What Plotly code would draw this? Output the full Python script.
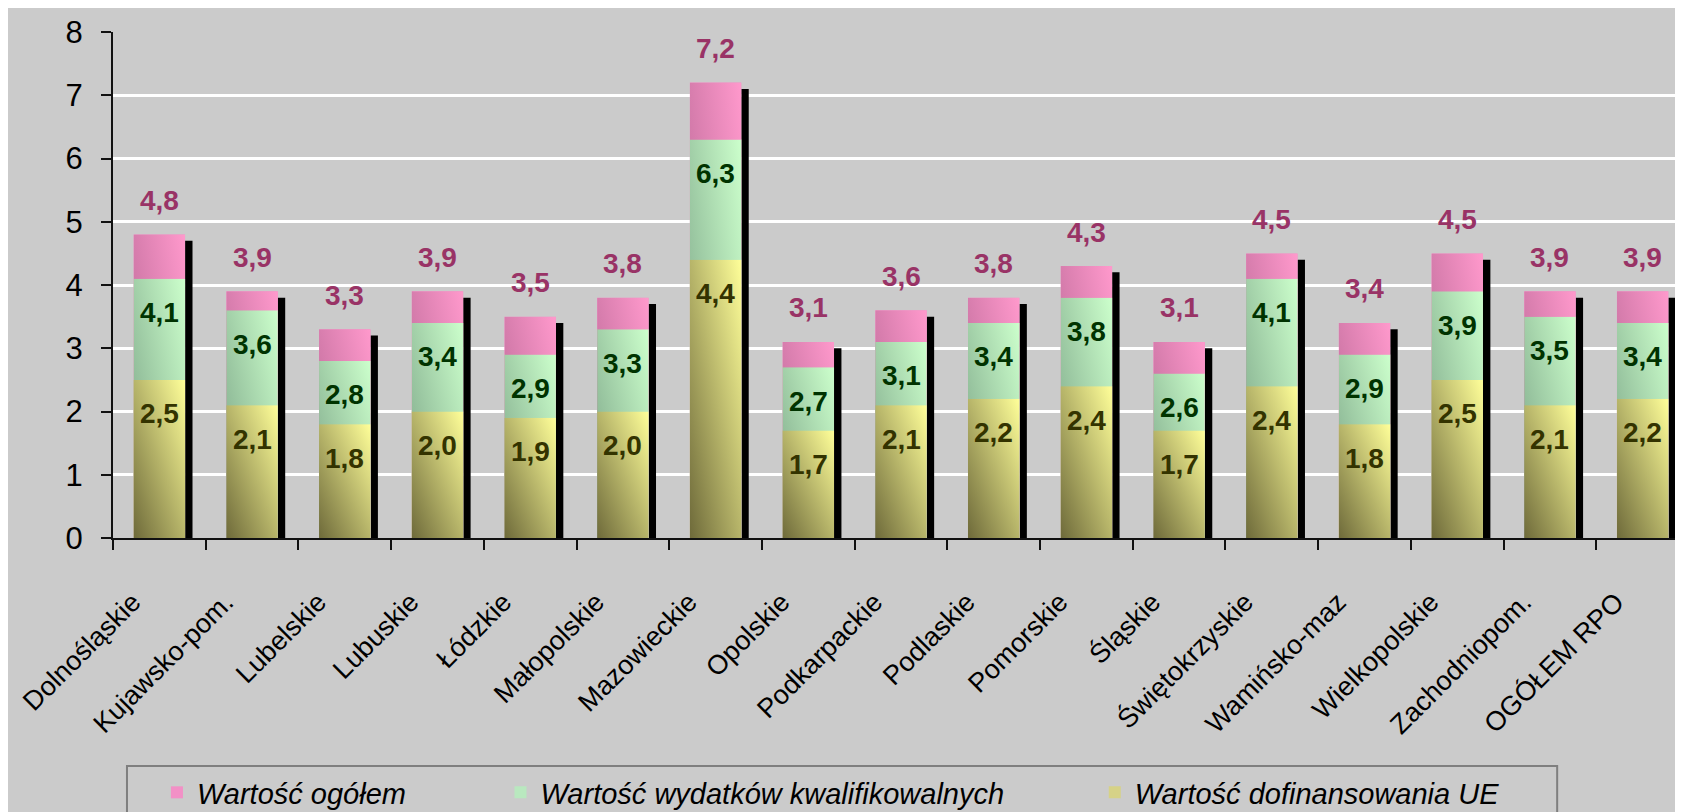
import base64
import plotly.graph_objects as go

# Regions and values (one decimal, as labelled)
regions = [
    "Dolnośląskie", "Kujawsko-pom.", "Lubelskie", "Lubuskie", "Łódzkie",
    "Małopolskie", "Mazowieckie", "Opolskie", "Podkarpackie", "Podlaskie",
    "Pomorskie", "Śląskie", "Świętokrzyskie", "Wamińsko-maz", "Wielkopolskie",
    "Zachodniopom.", "OGÓŁEM RPO",
]
total_value = [4.8, 3.9, 3.3, 3.9, 3.5, 3.8, 7.2, 3.1, 3.6, 3.8, 4.3, 3.1, 4.5, 3.4, 4.5, 3.9, 3.9]
eligible_value = [4.1, 3.6, 2.8, 3.4, 2.9, 3.3, 6.3, 2.7, 3.1, 3.4, 3.8, 2.6, 4.1, 2.9, 3.9, 3.5, 3.4]
eu_value = [2.5, 2.1, 1.8, 2.0, 1.9, 2.0, 4.4, 1.7, 2.1, 2.2, 2.4, 1.7, 2.4, 1.8, 2.5, 2.1, 2.2]

series_names = [
    "Wartość ogółem",
    "Wartość wydatków kwalifikowalnych",
    "Wartość dofinansowania UE",
]

FONT = "Liberation Sans, Arial, sans-serif"
BG = "#cbcbcb"
BAR_W = 0.555
SHADOW_DROP = 0.1

# (flat colour, gradient dark stop, gradient light stop)
pink = ("#f290c6", "#b0628f", "#ff99cc")
green = ("#b9e8bf", "#78a084", "#ccffcc")
yellow = ("#d6d287", "#6e6a3a", "#ffff99")


def gradient_uri(dark, light):
    svg = (
        '<svg xmlns="http://www.w3.org/2000/svg" width="100" height="100" '
        'viewBox="0 0 100 100" preserveAspectRatio="none">'
        '<defs><linearGradient id="g" x1="0" y1="1" x2="1" y2="0">'
        f'<stop offset="0" stop-color="{dark}"/>'
        f'<stop offset="1" stop-color="{light}"/>'
        '</linearGradient></defs>'
        '<rect width="100" height="100" fill="url(#g)"/></svg>'
    )
    return "data:image/svg+xml;base64," + base64.b64encode(svg.encode()).decode()


fig = go.Figure()

# 3D-like black shadow at the right side of each bar
fig.add_trace(go.Bar(
    x=regions, y=[v - SHADOW_DROP for v in total_value],
    width=0.08, offset=BAR_W / 2,
    marker=dict(color="black", line=dict(width=0)),
    showlegend=False, hoverinfo="skip",
))

images = []
for vals, name, col, leg in [
    (total_value, series_names[0], pink, "legend"),
    (eligible_value, series_names[1], green, "legend2"),
    (eu_value, series_names[2], yellow, "legend3"),
]:
    fig.add_trace(go.Bar(
        x=regions, y=vals, name=name, width=BAR_W,
        marker=dict(color=col[0], line=dict(width=0)), legend=leg,
    ))
    src = gradient_uri(col[1], col[2])
    for r, v in zip(regions, vals):
        images.append(dict(
            source=src, xref="x", yref="y", x=r, y=v,
            xanchor="center", yanchor="top", sizex=BAR_W, sizey=v,
            sizing="stretch", layer="above",
        ))

# value labels
annotations = []
for r, t, e, u in zip(regions, total_value, eligible_value, eu_value):
    for val, shift, col in [(t, 34, "#993366"), (e, -34, "#003300"), (u, -34, "#333300")]:
        annotations.append(dict(
            x=r, y=val, xref="x", yref="y", yshift=shift, showarrow=False,
            text=f"{val:.1f}".replace(".", ","),
            font=dict(family=FONT, size=28, color=col, weight="bold"),
        ))


def px_x(p):
    return (p - 105) / 1578


def px_y(p):
    return (539 - p) / 515


legend_style = dict(
    orientation="h", yanchor="middle", xanchor="left", y=px_y(798),
    bgcolor="rgba(0,0,0,0)", borderwidth=0,
    font=dict(family=FONT, size=29, color="black", style="italic"),
)

fig.update_layout(
    width=1683, height=812,
    margin=dict(l=105, r=2, t=24, b=273),
    paper_bgcolor=BG, plot_bgcolor=BG,
    barmode="overlay",
    separators=", ",
    font=dict(family=FONT, color="black"),
    annotations=annotations,
    images=images,
    legend=dict(legend_style, x=px_x(149)),
    legend2=dict(legend_style, x=px_x(493)),
    legend3=dict(legend_style, x=px_x(1088)),
    shapes=[dict(
        type="rect", xref="paper", yref="paper",
        x0=px_x(119), x1=px_x(1551), y0=px_y(771), y1=px_y(860),
        line=dict(color="#7f7f7f", width=2), fillcolor="rgba(0,0,0,0)",
    )],
    xaxis=dict(
        type="category", tickson="boundaries", ticks="outside", ticklen=10,
        tickwidth=2, tickcolor="#111", showline=True, linecolor="#111",
        linewidth=2, tickangle=-45, showgrid=False,
        tickfont=dict(family=FONT, size=27, color="black"),
        labelalias={r: r + "\u00a0" * 5 for r in regions},
        ticklabelstandoff=9,
    ),
    yaxis=dict(
        range=[0, 8], dtick=1, ticks="outside", ticklen=10, tickwidth=2,
        tickcolor="#111", showline=True, linecolor="#111", linewidth=2,
        gridcolor="white", gridwidth=3, zeroline=False,
        tickfont=dict(family=FONT, size=31, color="black"),
        ticklabelstandoff=12,
    ),
)

fig.write_html("out.html")
